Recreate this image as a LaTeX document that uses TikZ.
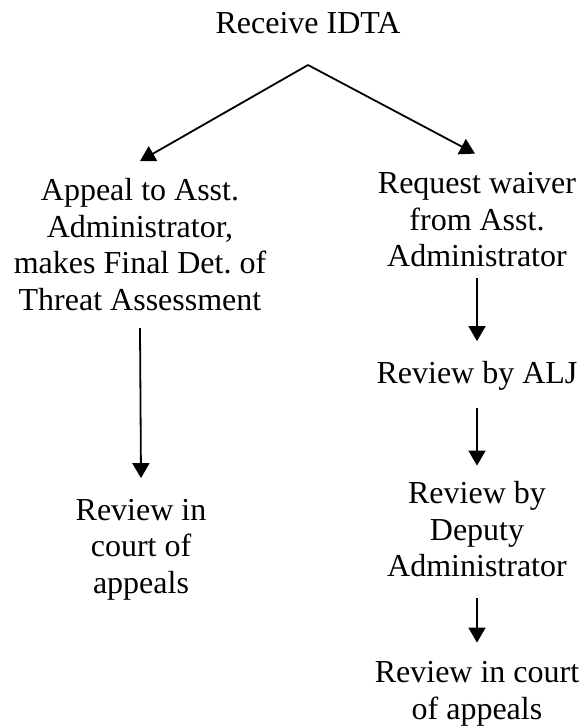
\documentclass[tikz,border=0pt]{standalone}
\usepackage{fontspec}
\setmainfont{Liberation Serif}
\usetikzlibrary{arrows.meta, positioning}
\frenchspacing

\tikzset{
  stage/.style={align=center, inner sep=0pt, anchor=base,
                font=\fontsize{32}{36.5}\selectfont},
  flow/.style={line width=1.8pt, -{Triangle[width=17pt,length=15pt]}}
}

\begin{document}
\begin{tikzpicture}[x=1pt, y=-1pt]
    \useasboundingbox (0,0) rectangle (582,728);

    % start
    \node[stage] (idta) at (308,33) {Receive IDTA};
    \coordinate (split) at (308,65);

    % left branch: appeal (base = last line)
    \node[stage] (appeal) at (140,310)
      {Appeal to Asst.\\Administrator,\\makes Final Det. of\\Threat Assessment};
    \node[stage] (courtL) at (141,593) {Review in\\court of\\appeals};

    % right branch: waiver
    \node[stage] (waiver) at (477,266.5)
      {Request waiver\\from Asst.\\Administrator};
    \node[stage] (alj) at (477,383) {Review by ALJ};
    \node[stage] (deputy) at (477,576.5) {Review by\\Deputy\\Administrator};
    \node[stage] (courtR) at (477,719) {Review in court\\of appeals};

    % arrows
    \draw[flow] (split) -- ([yshift=17pt]appeal.north);
    \draw[flow] (split) -- ([xshift=-2pt,yshift=18.5pt]waiver.north);
    \draw[flow] ([yshift=-17.5pt]appeal.south) -- ([yshift=20.5pt]courtL.north);
    \draw[flow] ([yshift=-11pt]waiver.south) -- ([yshift=19.5pt]alj.north);
    \draw[flow] ([yshift=-18pt]alj.south) -- ([yshift=15.5pt]deputy.north);
    \draw[flow] ([yshift=-21pt]deputy.south) -- ([yshift=18.5pt]courtR.north);
\end{tikzpicture}
\end{document}
